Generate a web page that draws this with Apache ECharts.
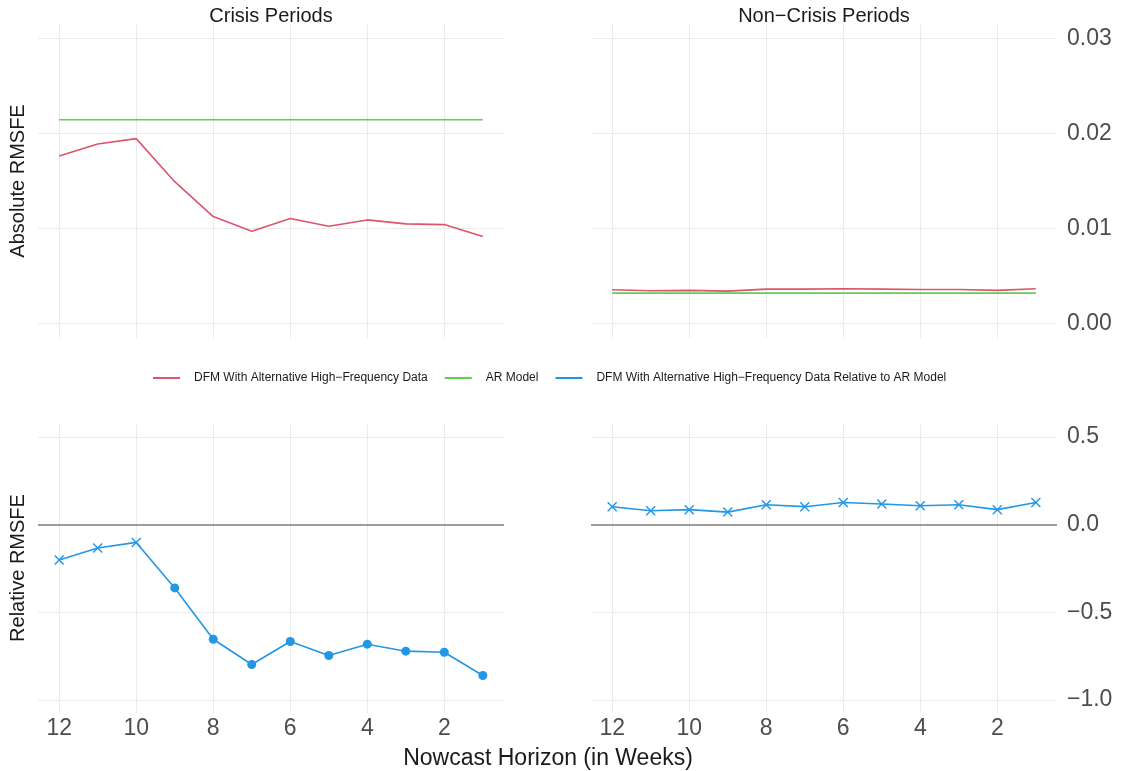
<!DOCTYPE html>
<html><head><meta charset="utf-8">
<script src="https://cdn.jsdelivr.net/npm/echarts@6/dist/echarts.min.js"></script>
<style>html,body{margin:0;padding:0;background:#fff}#c{width:1123px;height:771px}</style>
</head><body><div id="c"></div>
<script>
var weeks = [12,11,10,9,8,7,6,5,4,3,2,1];
var xTicks = [12,10,8,6,4,2];
var absTicks = [0,0.01,0.02,0.03];
var relTicks = [-1,-0.5,0,0.5];
var crisisDFM = [0.01763,0.01889,0.01945,0.01493,0.01126,0.00972,0.01105,0.01025,0.01091,0.01049,0.01042,0.00916];
var crisisAR = [0.02144,0.02144,0.02144,0.02144,0.02144,0.02144,0.02144,0.02144,0.02144,0.02144,0.02144,0.02144];
var nonCrisisDFM = [0.00357,0.00346,0.00350,0.00343,0.00364,0.00364,0.00367,0.00364,0.00360,0.00360,0.00350,0.00367];
var nonCrisisAR = [0.00322,0.00322,0.00322,0.00322,0.00322,0.00322,0.00322,0.00322,0.00322,0.00322,0.00322,0.00322];
var crisisRel = [-0.201,-0.133,-0.101,-0.361,-0.654,-0.798,-0.667,-0.747,-0.682,-0.722,-0.728,-0.861];
var crisisSig = [0,0,0,1,1,1,1,1,1,1,1,1];
var nonCrisisRel = [0.103,0.080,0.086,0.072,0.114,0.103,0.127,0.118,0.108,0.114,0.086,0.127];
var nonCrisisSig = [0,0,0,0,0,0,0,0,0,0,0,0];

var RED='#DF536B', GREEN='#61D04F', BLUE='#2297E6';
var FONT='Liberation Sans';
var NAME1='DFM With Alternative High\u2212Frequency Data', NAME2='AR Model', NAME3='DFM With Alternative High\u2212Frequency Data Relative to AR Model';
var CROSS='path://M0,1L1,0L5,4L9,0L10,1L6,5L10,9L9,10L5,6L1,10L0,9L4,5Z';

function pairs(vals){return weeks.map(function(w,i){return [w,vals[i]];});}
function relData(vals,sig){return weeks.map(function(w,i){
  return sig[i]?{value:[w,vals[i]],symbol:'circle',symbolSize:9}:{value:[w,vals[i]],symbol:CROSS,symbolSize:10};});}
function minus(s){return String(s).replace('-','\u2212');}

var grids=[
 {left:38,width:466,top:24,height:314},
 {left:591,width:466,top:24,height:314},
 {left:38,width:466,top:424,height:289},
 {left:591,width:466,top:424,height:289}
];
var xAxes=grids.map(function(g,i){return {
  type:'value',gridIndex:i,inverse:true,min:0.45,max:12.55,
  axisLine:{show:false},
  axisTick:{show:false,customValues:xTicks},
  axisLabel:{show:i>=2,customValues:xTicks,fontFamily:FONT,fontSize:23,color:'#4D4D4D',margin:4},
  splitLine:{show:true,lineStyle:{color:'#EBEBEB',width:1}}
};});
var yAxes=grids.map(function(g,i){var top=i<2;return {
  type:'value',gridIndex:i,position:'right',
  min:top?-0.0015:-1.075,max:top?0.0315:0.575,
  axisLine:{show:false},
  axisTick:{show:false,customValues:top?absTicks:relTicks},
  axisLabel:{show:i%2===1,customValues:top?absTicks:relTicks,fontFamily:FONT,fontSize:23,color:'#4D4D4D',margin:10,
    formatter:top?function(v){return v.toFixed(2);}:function(v){return minus(v.toFixed(1));}},
  splitLine:{show:true,lineStyle:{color:'#EBEBEB',width:1}}
};});

function lineS(name,color,idx,data){return {name:name,type:'line',xAxisIndex:idx,yAxisIndex:idx,data:data,
  showSymbol:false,symbol:'none',lineStyle:{color:color,width:1.6},itemStyle:{color:color},silent:true,animation:false,z:3};}
function relS(idx,data){return {name:NAME3,type:'line',xAxisIndex:idx,yAxisIndex:idx,data:data,
  lineStyle:{color:BLUE,width:1.6},itemStyle:{color:BLUE},silent:true,animation:false,z:4,
  markLine:{silent:true,symbol:'none',label:{show:false},lineStyle:{color:'#7F7F7F',width:1.6,type:'solid'},data:[{yAxis:0}],animation:false}};}

var chart=echarts.init(document.getElementById('c'),null,{renderer:'canvas'});
chart.setOption({
  animation:false,
  backgroundColor:'#fff',
  grid:grids,xAxis:xAxes,yAxis:yAxes,
  legend:{top:372,left:153,padding:0,icon:'rect',itemWidth:27,itemHeight:2,itemGap:17,
    textStyle:{fontFamily:FONT,fontSize:12,color:'#1A1A1A',padding:[0,0,0,9]},
    data:[{name:NAME1,itemStyle:{color:RED}},{name:NAME2,itemStyle:{color:GREEN}},{name:NAME3,itemStyle:{color:BLUE}}]},
  series:[
    lineS(NAME2,GREEN,0,pairs(crisisAR)),
    lineS(NAME1,RED,0,pairs(crisisDFM)),
    lineS(NAME2,GREEN,1,pairs(nonCrisisAR)),
    lineS(NAME1,RED,1,pairs(nonCrisisDFM)),
    relS(2,relData(crisisRel,crisisSig)),
    relS(3,relData(nonCrisisRel,nonCrisisSig))
  ],
  graphic:[
    {type:'text',x:271,y:16,style:{text:'Crisis Periods',fontFamily:FONT,fontSize:20,fill:'#1A1A1A',align:'center',verticalAlign:'middle'}},
    {type:'text',x:824,y:16,style:{text:'Non\u2212Crisis Periods',fontFamily:FONT,fontSize:20,fill:'#1A1A1A',align:'center',verticalAlign:'middle'}},
    {type:'text',x:18,y:181,rotation:Math.PI/2,style:{text:'Absolute RMSFE',fontFamily:FONT,fontSize:20,fill:'#1A1A1A',align:'center',verticalAlign:'middle'}},
    {type:'text',x:18,y:568,rotation:Math.PI/2,style:{text:'Relative RMSFE',fontFamily:FONT,fontSize:20,fill:'#1A1A1A',align:'center',verticalAlign:'middle'}},
    {type:'text',x:548,y:759,style:{text:'Nowcast Horizon (in Weeks)',fontFamily:FONT,fontSize:23,fill:'#1A1A1A',align:'center',verticalAlign:'middle'}}
  ]
});
</script></body></html>
